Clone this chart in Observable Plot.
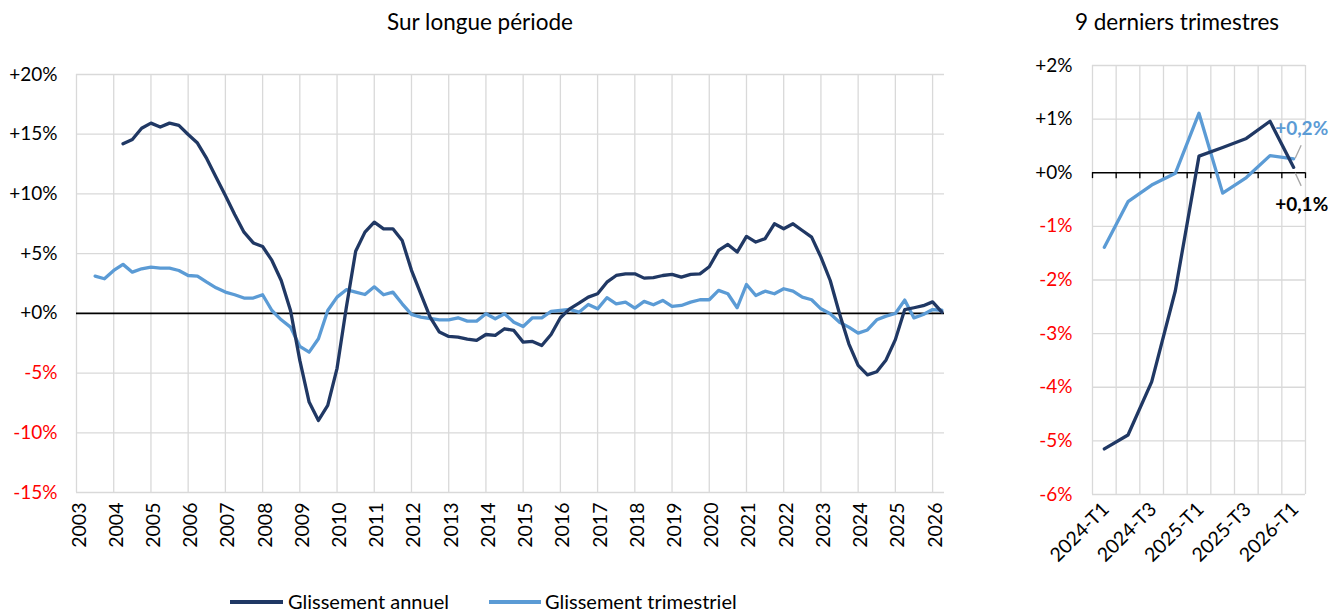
<!DOCTYPE html>
<html>
<head>
<meta charset="utf-8">
<script src="https://cdn.jsdelivr.net/npm/d3@7"></script>
<script src="https://cdn.jsdelivr.net/npm/@observablehq/plot@0.6"></script>
<style>
  body { margin: 0; background: #fff; font-family: Lato, "Open Sans", sans-serif; }
  #wrap { position: relative; width: 1330px; height: 612px; overflow: hidden; }
  .title { position: absolute; top: 8px; font-size: 22.5px; color: #000; text-align: center; line-height: 28px; }
  .plot { position: absolute; top: 40px; }
  .sw { position: absolute; height: 4px; }
  .lg { position: absolute; font-size: 20px; line-height: 24px; color: #000; }
</style>
</head>
<body>
<div id="wrap">
  <div class="title" style="left:280px;width:400px">Sur longue période</div>
  <div class="title" style="left:1027px;width:300px">9 derniers trimestres</div>
  <div id="left" class="plot" style="left:0px"></div>
  <div id="right" class="plot" style="left:1000px"></div>
  <div class="sw" style="left:230px;top:600px;width:53px;background:#203864"></div>
  <div class="lg" style="left:288px;top:589px">Glissement annuel</div>
  <div class="sw" style="left:489px;top:600px;width:52px;background:#5b9bd5"></div>
  <div class="lg" style="left:545px;top:589px">Glissement trimestriel</div>
</div>
<script>
// ---------- Data ----------
// Long period: quarterly series, first quarterly value is 2003-T2, first annual value is 2004-T1, last 2026-T1
const firstYearQuarterly = 2003, firstQuarterQuarterly = 2;
const firstYearAnnual = 2004, firstQuarterAnnual = 1;

// Glissement trimestriel (%), 2003-T2 .. 2026-T1
const quarterlyLong = [
  3.12, 2.9, 3.59,
  4.1, 3.45, 3.73, 3.87,
  3.79, 3.79, 3.59, 3.17,
  3.12, 2.61, 2.14, 1.78,
  1.56, 1.28, 1.28, 1.56,
  0.24, -0.54, -1.15, -2.77,
  -3.25, -2.13, 0.24, 1.36,
  1.98, 1.78, 1.58, 2.22,
  1.56, 1.78, 0.8, -0.09,
  -0.32, -0.43, -0.54, -0.54,
  -0.37, -0.65, -0.65, -0.03,
  -0.45, -0.03, -0.74, -1.1,
  -0.37, -0.37, 0.16, 0.24,
  0.33, 0.1, 0.75, 0.38,
  1.31, 0.8, 0.94, 0.44,
  1.0, 0.72, 1.08, 0.58,
  0.66, 0.94, 1.14, 1.14,
  1.92, 1.64, 0.47, 2.42,
  1.5, 1.86, 1.64, 2.06,
  1.86, 1.36, 1.14, 0.38,
  -0.03, -0.74, -1.15, -1.66,
  -1.39, -0.54, -0.23, -0.01,
  1.11, -0.38, -0.09, 0.32,
  0.26
];

// Glissement annuel (%), 2004-T1 .. 2026-T1
const annualLong = [
  14.2, 14.56, 15.5, 15.93,
  15.6, 15.93, 15.74, 14.98,
  14.26, 12.95, 11.4, 9.87,
  8.28, 6.8, 5.9, 5.6,
  4.43, 2.75, 0.24, -3.94,
  -7.43, -8.97, -7.71, -4.6,
  0.52, 5.2, 6.8, 7.64,
  7.08, 7.08, 6.1, 3.6,
  1.64, -0.32, -1.57, -1.93,
  -1.99, -2.16, -2.27, -1.77,
  -1.85, -1.29, -1.43, -2.41,
  -2.35, -2.69, -1.77, -0.37,
  0.38, 0.85, 1.36, 1.64,
  2.61, 3.17, 3.31, 3.31,
  2.95, 3.0, 3.17, 3.26,
  3.03, 3.26, 3.31, 3.9,
  5.27, 5.77, 5.13, 6.44,
  5.97, 6.25, 7.5, 7.08,
  7.5, 6.94, 6.38, 4.71,
  2.75, -0.03, -2.55, -4.36,
  -5.15, -4.89, -3.9, -2.2,
  0.31, 0.47, 0.64, 0.96,
  0.10
];

const yearTicks = [2003,2004,2005,2006,2007,2008,2009,2010,2011,2012,2013,2014,2015,2016,2017,2018,2019,2020,2021,2022,2023,2024,2025,2026];
const yTicksLong = [20, 15, 10, 5, 0, -5, -10, -15];

// Last 9 quarters
const quarters9 = ["2024-T1","2024-T2","2024-T3","2024-T4","2025-T1","2025-T2","2025-T3","2025-T4","2026-T1"];
const annual9 = [-5.15, -4.89, -3.9, -2.2, 0.31, 0.47, 0.64, 0.96, 0.10];
const quarterly9 = [-1.39, -0.54, -0.23, -0.01, 1.11, -0.38, -0.09, 0.32, 0.26];
const yTicks9 = [2, 1, 0, -1, -2, -3, -4, -5, -6];
const labelAnnual = "+0,1%";
const labelQuarterly = "+0,2%";

// ---------- Build tables ----------
// Quarter-end position on a continuous year axis: year + q/4
function series(values, y0, q0) {
  return values.map((v, i) => {
    const k = (q0 - 1) + i;
    const year = y0 + Math.floor(k / 4), q = (k % 4) + 1;
    return { t: year + q / 4, v };
  });
}
const quarterlyData = series(quarterlyLong, firstYearQuarterly, firstQuarterQuarterly);
const annualData = series(annualLong, firstYearAnnual, firstQuarterAnnual);

const DARK = "#203864", LIGHT = "#5b9bd5", GRID = "#d9d9d9", RED = "#ff0000";
const FONT = "Lato, 'Open Sans', sans-serif";
const fmtPct = v => (v < 0 ? "-" : "+") + Math.abs(v) + "%";

// ---------- Left chart ----------
const left = Plot.plot({
  width: 960, height: 530,
  marginLeft: 76, marginRight: 16, marginTop: 34, marginBottom: 78,
  x: { domain: [2003, 2026.32], axis: null },
  y: { domain: [-15, 20], axis: null },
  style: { fontFamily: FONT, fontSize: "19px", background: "transparent", overflow: "visible" },
  marks: [
    Plot.ruleX(yearTicks, { x: d => d, stroke: GRID, strokeWidth: 1.3 }),
    Plot.ruleY(yTicksLong.filter(d => d !== 0), { y: d => d, stroke: GRID, strokeWidth: 1.3 }),
    Plot.ruleY([0], { stroke: "#000", strokeWidth: 1.6 }),
    Plot.line(quarterlyData, { x: "t", y: "v", stroke: LIGHT, strokeWidth: 3.3 }),
    Plot.line(annualData, { x: "t", y: "v", stroke: DARK, strokeWidth: 3.3 }),
    Plot.text(yTicksLong, { y: d => d, frameAnchor: "left", dx: -19, textAnchor: "end",
      text: fmtPct, fill: d => d < 0 ? RED : "#000", fontSize: 19 }),
    Plot.text(yearTicks, { x: d => d, frameAnchor: "bottom", dx: 9, dy: 10, rotate: -90,
      textAnchor: "end", text: d => String(d), fill: "#000", fontSize: 19.5 })
  ]
});
document.getElementById("left").appendChild(left);

// ---------- Right chart ----------
const idx = quarters9.map((q, i) => i);
const bounds = [...idx.map(i => i - 0.5), quarters9.length - 0.5];
const annual9Data = annual9.map((v, i) => ({ i, v }));
const quarterly9Data = quarterly9.map((v, i) => ({ i, v }));
const last = quarters9.length - 1;

// leader lines drawn in pixel offsets from the last points
function leader(value, sx, sy, ex, ey) {
  return (index, scales) => {
    const x0 = scales.x(last), y0 = scales.y(value);
    const g = d3.create("svg:line")
      .attr("x1", x0 + sx).attr("y1", y0 + sy)
      .attr("x2", x0 + ex).attr("y2", y0 + ey)
      .attr("stroke", "#a6a6a6").attr("stroke-width", 1.3);
    return g.node();
  };
}

const right = Plot.plot({
  width: 330, height: 530,
  marginLeft: 92, marginRight: 25, marginTop: 25, marginBottom: 76,
  x: { domain: [-0.5, quarters9.length - 0.5], axis: null },
  y: { domain: [-6, 2], axis: null },
  style: { fontFamily: FONT, fontSize: "19px", background: "transparent", overflow: "visible" },
  marks: [
    Plot.ruleX(bounds, { x: d => d, stroke: GRID, strokeWidth: 1.3 }),
    Plot.ruleY(yTicks9.filter(d => d !== 0), { y: d => d, stroke: GRID, strokeWidth: 1.3 }),
    Plot.ruleY([0], { stroke: "#000", strokeWidth: 1.6 }),
    Plot.ruleX(bounds, { x: d => d, y1: 0, y2: -0.11, stroke: "#000", strokeWidth: 1.3 }),
    Plot.line(quarterly9Data, { x: "i", y: "v", stroke: LIGHT, strokeWidth: 3.3 }),
    Plot.line(annual9Data, { x: "i", y: "v", stroke: DARK, strokeWidth: 3.3 }),
    leader(quarterly9[last], 2, 0, 8, -13),
    leader(annual9[last], 2, 6, 8, 19),
    Plot.text([quarterly9[last]], { x: () => last, y: d => d, dx: 8, dy: -30, text: () => labelQuarterly,
      fill: LIGHT, fontWeight: "bold", fontSize: 19 }),
    Plot.text([annual9[last]], { x: () => last, y: d => d, dx: 8, dy: 38, text: () => labelAnnual,
      fill: "#000", fontWeight: "bold", fontSize: 19 }),
    Plot.text(yTicks9, { y: d => d, frameAnchor: "left", dx: -20, textAnchor: "end",
      text: fmtPct, fill: d => d < 0 ? RED : "#000", fontSize: 19 }),
    Plot.text(idx.filter(i => i % 2 === 0), { x: d => d, frameAnchor: "bottom", dx: 6, dy: 16, rotate: -45,
      textAnchor: "end", text: d => quarters9[d], fill: "#000", fontSize: 19.5 })
  ]
});
document.getElementById("right").appendChild(right);
</script>
</body>
</html>
